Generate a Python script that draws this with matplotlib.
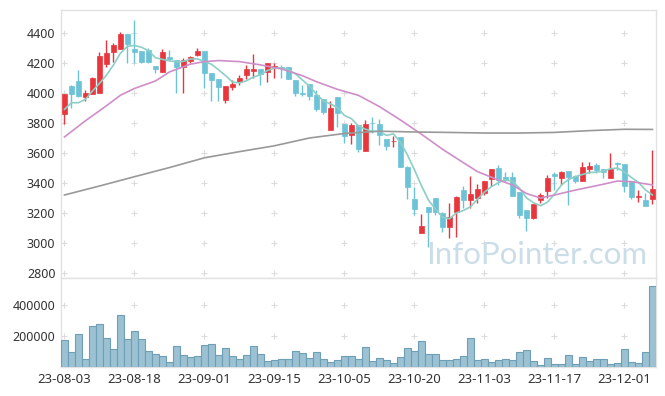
import numpy as np
import matplotlib
matplotlib.use('Agg')
import matplotlib.pyplot as plt

plt.rcParams['font.family'] = ['Noto Sans', 'DejaVu Sans']

# daily candles, 23-08-03 .. 23-12-07 (85 trading days)
opens = [3862, 4046, 4080, 3975, 3996, 3998, 4196, 4276, 4296, 4393,
         4293, 4278, 4287, 4180, 4142, 4240, 4220, 4176, 4213, 4251,
         4278, 4133, 4093, 3953, 4042, 4076, 4120, 4146, 4160, 4138,
         4164, 4176, 4173, 4087, 4000, 4060, 3987, 3958, 3753, 3971,
         3793, 3720, 3787, 3616, 3802, 3796, 3693, 3678, 3704, 3509,
         3293, 3067, 3238, 3300, 3202, 3109, 3209, 3353, 3287, 3298,
         3331, 3427, 3498, 3438, 3438, 3340, 3220, 3164, 3287, 3349,
         3458, 3433, 3480, 3449, 3416, 3491, 3520, 3493, 3433, 3535,
         3527, 3413, 3309, 3287, 3291]
highs = [3995, 4050, 4153, 4018, 4105, 4271, 4353, 4336, 4404, 4395,
         4487, 4280, 4302, 4182, 4291, 4287, 4222, 4236, 4249, 4298,
         4280, 4135, 4095, 4047, 4084, 4118, 4187, 4262, 4162, 4202,
         4202, 4187, 4176, 4089, 4053, 4062, 4020, 3960, 3947, 3973,
         3795, 3800, 3787, 3820, 3838, 3824, 3695, 3713, 3706, 3511,
         3376, 3191, 3240, 3302, 3204, 3269, 3313, 3380, 3449, 3393,
         3413, 3491, 3520, 3476, 3476, 3342, 3222, 3258, 3331, 3451,
         3476, 3482, 3482, 3451, 3542, 3542, 3535, 3495, 3602, 3537,
         3529, 3415, 3353, 3336, 3620]
lows = [3791, 3898, 3976, 3947, 3990, 3998, 4176, 4209, 4290, 4198,
        4198, 4200, 4198, 4131, 4140, 4220, 3998, 3998, 4198, 4249,
        4031, 3949, 3949, 3936, 4020, 4051, 4096, 4098, 4053, 4076,
        4102, 4098, 4093, 3980, 3980, 3953, 3878, 3860, 3753, 3771,
        3669, 3660, 3609, 3616, 3731, 3653, 3620, 3642, 3509, 3293,
        3187, 3067, 2976, 3187, 3076, 3036, 3042, 3231, 3231, 3264,
        3320, 3380, 3387, 3409, 3313, 3164, 3082, 3162, 3264, 3298,
        3353, 3387, 3253, 3398, 3414, 3465, 3465, 3431, 3431, 3487,
        3342, 3291, 3276, 3247, 3260]
closes = [3993, 3993, 3982, 3998, 4100, 4247, 4267, 4320, 4393, 4329,
          4273, 4207, 4207, 4160, 4271, 4224, 4176, 4220, 4240, 4278,
          4131, 4087, 4038, 4047, 4062, 4100, 4160, 4160, 4127, 4202,
          4182, 4164, 4093, 3998, 3993, 3980, 3893, 3871, 3900, 3869,
          3716, 3787, 3627, 3793, 3798, 3718, 3649, 3680, 3509, 3376,
          3227, 3116, 3204, 3204, 3109, 3176, 3309, 3287, 3327, 3360,
          3413, 3491, 3420, 3420, 3313, 3184, 3167, 3258, 3320, 3433,
          3449, 3473, 3442, 3416, 3504, 3513, 3487, 3476, 3496, 3527,
          3380, 3304, 3313, 3247, 3358]
prev_closes = [3773, 3982, 3883, 3824]  # closes before 23-08-03, for the 5-day average

volume = [173, 95, 212, 50, 264, 277, 186, 115, 335, 180,
          231, 180, 102, 82, 69, 30, 134, 76, 63, 69,
          141, 147, 76, 121, 69, 50, 76, 134, 82, 37,
          43, 50, 50, 102, 89, 56, 95, 50, 30, 43,
          69, 69, 50, 128, 37, 56, 43, 24, 63, 121,
          102, 166, 82, 82, 43, 43, 50, 69, 186, 43,
          50, 30, 43, 50, 43, 95, 108, 37, 11, 56,
          17, 17, 76, 17, 63, 37, 50, 50, 17, 24,
          115, 30, 24, 95, 523]
volume = [v * 1000 for v in volume]

# longer averages
ma20_idx = [0, 3, 6, 8, 10, 13, 15, 18, 20, 22, 25, 28, 31, 34, 36, 39, 42,
            45, 48, 51, 54, 57, 59, 62, 64, 66, 68, 70, 73, 76, 79, 81, 84]
ma20_val = [3707, 3815, 3915, 3985, 4030, 4080, 4140, 4192, 4209, 4216, 4209,
            4187, 4160, 4115, 4075, 4024, 3984, 3909, 3820, 3725, 3625, 3535,
            3476, 3420, 3387, 3330, 3300, 3320, 3353, 3382, 3413, 3409, 3387]
ma120_idx = [0, 5, 10, 15, 20, 25, 30, 35, 40, 45, 50, 55, 60, 65, 70, 75, 80, 84]
ma120_val = [3320, 3380, 3442, 3503, 3568, 3609, 3648, 3700, 3730, 3745,
             3740, 3737, 3733, 3733, 3737, 3749, 3758, 3757]

tick_pos = [0, 10, 20, 30, 40, 50, 60, 70, 80]
tick_labels = ['23-08-03', '23-08-18', '23-09-01', '23-09-15', '23-10-05',
               '23-10-20', '23-11-03', '23-11-17', '23-12-01']
price_ticks = [2800, 3000, 3200, 3400, 3600, 3800, 4000, 4200, 4400]
vol_ticks = [200000, 400000]

up_color = '#e9363d'
down_color = '#6cc3d7'
frame = '#e2e2e2'
text_color = '#333333'

o = np.array(opens)
h = np.array(highs)
l = np.array(lows)
c = np.array(closes)
x = np.arange(len(c))
allc = np.array(prev_closes + closes, dtype=float)
ma5 = np.convolve(allc, np.ones(5) / 5, mode='valid')

fig = plt.figure(figsize=(6.65, 3.96), dpi=100)
ax = fig.add_axes([0.0917, 0.298, 0.8947, 0.6768])
axv = fig.add_axes([0.0917, 0.0732, 0.8947, 0.2247], sharex=ax)

colors = [up_color if c[i] >= o[i] else down_color for i in x]
ax.vlines(x, l, h, colors=colors, linewidth=1, zorder=3)
body_h = np.maximum(np.abs(c - o), 3)
ax.bar(x, body_h, bottom=np.minimum(o, c), width=0.72, color=colors,
       edgecolor=colors, linewidth=0.5, zorder=4)

ax.plot(x, ma5, color='#8ccfc5', linewidth=1.2, zorder=5)
ax.plot(ma20_idx, ma20_val, color='#cf8ec9', linewidth=1.2, zorder=5)
ax.plot(ma120_idx, ma120_val, color='#999999', linewidth=1.2, zorder=5)

ax.text(0.986, 0.035, 'InfoPointer.com', transform=ax.transAxes, ha='right',
        va='bottom', fontsize=22.5, color='#cbdde8', family=['Lato', 'DejaVu Sans'],
        zorder=1)

ax.set_xlim(-0.5, len(c) - 0.5)
ax.set_ylim(2767, 4553)
ax.set_yticks(price_ticks)
ax.set_yticklabels([str(p) for p in price_ticks])

axv.bar(x, volume, width=1.0, color='#9bc1d2', edgecolor='#6e9fb6',
        linewidth=0.8, zorder=3)
axv.set_ylim(0, 574000)
axv.set_yticks(vol_ticks)
axv.set_yticklabels([str(v) for v in vol_ticks])
axv.set_xticks(tick_pos)
axv.set_xticklabels(tick_labels)

# grid is drawn as small crosses at the tick intersections
gx, gy = np.meshgrid(tick_pos, price_ticks)
ax.scatter(gx.ravel(), gy.ravel(), marker='+', s=18, color='#dcdcdc',
           linewidths=0.8, zorder=0)
gx, gy = np.meshgrid(tick_pos, vol_ticks)
axv.scatter(gx.ravel(), gy.ravel(), marker='+', s=18, color='#dcdcdc',
            linewidths=0.8, zorder=0)

for a in (ax, axv):
    for s in a.spines.values():
        s.set_color(frame)
        s.set_linewidth(1)
    a.tick_params(length=0, labelsize=9, colors=text_color, pad=4)
axv.tick_params(axis='x', labelsize=9.5, pad=4)
plt.setp(ax.get_xticklabels(), visible=False)

fig.savefig('out.png', dpi=100)
